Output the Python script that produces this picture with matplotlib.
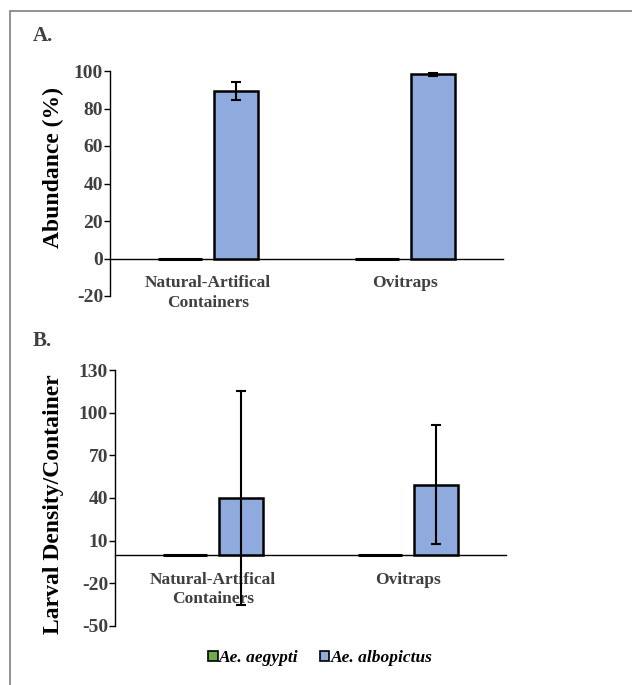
import matplotlib.pyplot as plt
from matplotlib.patches import Patch, Rectangle
import numpy as np

plt.rcParams['font.family'] = 'Liberation Serif'
plt.rcParams['axes.unicode_minus'] = False

categories = ['Natural-Artifical\nContainers', 'Ovitraps']
species = ['Ae. aegypti', 'Ae. albopictus']

abund_aegypti = [0, 0]
abund_albo = [89.5, 98.2]
abund_albo_err = [4.7, 0.8]

larv_aegypti = [0, 0]
larv_albo = [40, 49.4]
larv_albo_err = [75, 41.7]

green = '#70AD47'
blue = '#8FAADC'
grey_txt = '#404040'

fig = plt.figure(figsize=(6.32, 6.85), dpi=100)

# outer frame (clipped on the right and bottom like the original)
fig.patches.append(Rectangle((10 / 632, -0.01), 1.0, 1 - 11 / 685 + 0.01,
                             transform=fig.transFigure, fill=False,
                             edgecolor='#7f7f7f', lw=1.2))

ax_a = fig.add_axes([110 / 632, 1 - 296 / 685, 393 / 632, 225 / 685])
ax_b = fig.add_axes([115 / 632, 1 - 626 / 685, 391 / 632, 256 / 685])

x = np.arange(len(categories))
off = 0.143
w = 0.225


def style(ax, ylim, ticks, ylabel, label_x, label_y):
    ax.set_xlim(-0.5, 1.5)
    ax.set_ylim(*ylim)
    ax.set_yticks(ticks)
    ax.spines['top'].set_visible(False)
    ax.spines['right'].set_visible(False)
    ax.spines['bottom'].set_position(('data', 0))
    ax.spines['bottom'].set_linewidth(1.0)
    ax.spines['left'].set_linewidth(1.0)
    ax.set_xticks(x)
    ax.set_xticklabels(categories, fontsize=12.5, fontweight='bold', color=grey_txt,
                       linespacing=1.3)
    ax.tick_params(axis='x', length=0, pad=12)
    ax.tick_params(axis='y', length=4, width=1.0, labelsize=14, labelcolor=grey_txt, pad=1)
    for t in ax.get_yticklabels():
        t.set_fontweight('bold')
    ax.set_ylabel(ylabel, fontsize=17, fontweight='bold')
    ax.yaxis.set_label_coords(label_x, label_y)


ax_a.bar(x - off, abund_aegypti, w, color=green, edgecolor='black', lw=2.2, zorder=3)
ax_a.bar(x + off, abund_albo, w, color=blue, edgecolor='black', lw=1.8, zorder=3)
ax_a.errorbar(x + off, abund_albo, yerr=abund_albo_err, fmt='none', ecolor='black',
              elinewidth=1.5, capsize=3.5, capthick=1.5, zorder=4)
style(ax_a, (-20, 100), [-20, 0, 20, 40, 60, 80, 100], 'Abundance (%)', -0.117, 0.57)

ax_b.bar(x - off, larv_aegypti, w, color=green, edgecolor='black', lw=2.2, zorder=3)
ax_b.bar(x + off, larv_albo, w, color=blue, edgecolor='black', lw=1.8, zorder=3)
ax_b.errorbar(x + off, larv_albo, yerr=larv_albo_err, fmt='none', ecolor='black',
              elinewidth=1.5, capsize=3.5, capthick=1.5, zorder=4)
style(ax_b, (-50, 130), [-50, -20, 10, 40, 70, 100, 130], 'Larval Density/Container',
      -0.13, 0.475)

fig.text(33 / 632, 1 - 36 / 685, 'A.', fontsize=15, fontweight='bold', color=grey_txt,
         va='center', ha='left')
fig.text(33 / 632, 1 - 341 / 685, 'B.', fontsize=15, fontweight='bold', color=grey_txt,
         va='center', ha='left')

handles = [Patch(facecolor=green, edgecolor='black', lw=1.2),
           Patch(facecolor=blue, edgecolor='black', lw=1.2)]
fig.legend(handles, species, loc='center', bbox_to_anchor=(0.507, 1 - 658 / 685),
           ncol=2, frameon=False, handlelength=0.55, handleheight=0.55, handletextpad=0.1,
           columnspacing=1.2, prop={'size': 12.5, 'weight': 'bold', 'style': 'italic'})

fig.savefig('out.png', dpi=100)
